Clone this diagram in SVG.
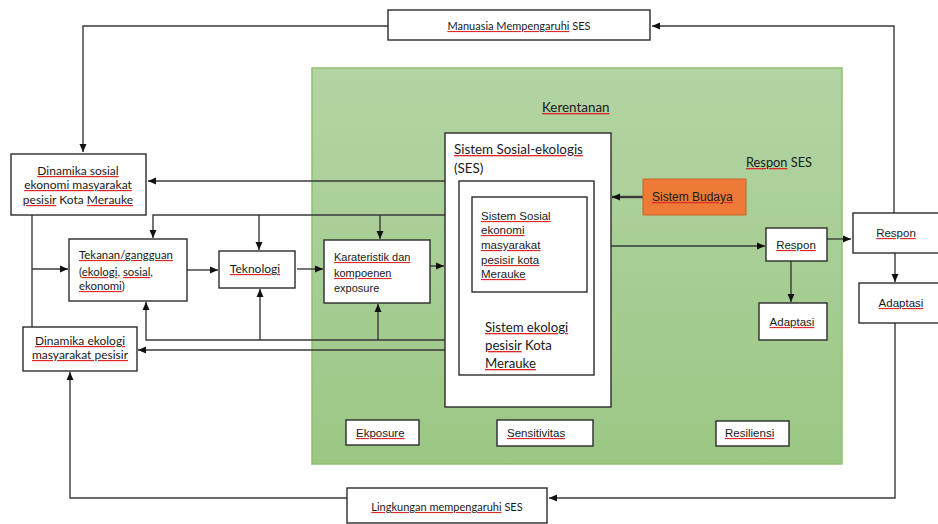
<svg xmlns="http://www.w3.org/2000/svg" width="938" height="524" viewBox="0 0 938 524">
<defs>
<linearGradient id="g" x1="0" y1="0" x2="0" y2="1">
<stop offset="0" stop-color="#b3d5a4"/>
<stop offset="1" stop-color="#9bc784"/>
</linearGradient>
<marker id="a" markerUnits="userSpaceOnUse" markerWidth="9" markerHeight="8" refX="8" refY="4" orient="auto">
<path d="M0,0.5 L8,4 L0,7.5 z" fill="#111"/>
</marker>
<style>
.b{fill:#fff;stroke:#2b2b2b;stroke-width:1.4}
.c{fill:none;stroke:#3a3a3a;stroke-width:1.4}
.t{font-family:Lato,"Liberation Sans",sans-serif;fill:#1a1a1a;font-size:12px}
.s{font-family:"Liberation Sans",Arial,sans-serif;fill:#1a1a1a;font-size:11.5px}
.m{text-anchor:middle}
.u{fill:#e02828;text-decoration:underline}
.k{fill:#1a1a1a}
</style>
</defs>

<rect id="green" x="312" y="68" width="530" height="396" fill="url(#g)" stroke="#8cc071" stroke-width="1.5"/>

<g id="connectors">
<path class="c" d="M388,26 H83 V152" marker-end="url(#a)"/>
<path class="c" d="M894,213 V26 H652" marker-end="url(#a)"/>
<path class="c" d="M895,323 V498 H549" marker-end="url(#a)"/>
<path class="c" d="M347,498 H70 V372" marker-end="url(#a)"/>
<path class="c" d="M445,181 H148" marker-end="url(#a)"/>
<path class="c" d="M445,215 H153 V238" marker-end="url(#a)"/>
<path class="c" d="M259,215 V250" marker-end="url(#a)"/>
<path class="c" d="M380,215 V239" marker-end="url(#a)"/>
<path class="c" d="M32,215 V327"/>
<path class="c" d="M32,269 H68" marker-end="url(#a)"/>
<path class="c" d="M187,270 H218" marker-end="url(#a)"/>
<path class="c" d="M297,269 H323" marker-end="url(#a)"/>
<path class="c" d="M420,266 H444" marker-end="url(#a)"/>
<path class="c" d="M445,340 H146 V302" marker-end="url(#a)"/>
<path class="c" d="M260,340 V289" marker-end="url(#a)"/>
<path class="c" d="M378,340 V304" marker-end="url(#a)"/>
<path class="c" d="M445,350 H138" marker-end="url(#a)"/>
<path class="c" d="M643,197 H612" style="stroke-width:2.4" marker-end="url(#a)"/>
<path class="c" d="M611,246 H765" marker-end="url(#a)"/>
<path class="c" d="M827,239 H851" marker-end="url(#a)"/>
<path class="c" d="M791,261 V302" marker-end="url(#a)"/>
<path class="c" d="M895,253 V282" marker-end="url(#a)"/>
</g>

<g id="manusia">
<rect class="b" x="388" y="10" width="262" height="30"/>
<text class="t m" x="519" y="30" style="font-size:11px"><tspan class="u"><tspan class="k">Manuasia Mempengaruhi</tspan></tspan> SES</text>
</g>

<g id="dinamika-sosial">
<rect class="b" x="11" y="154" width="135" height="61"/>
<text class="t m" x="78" y="175"><tspan class="u"><tspan class="k">Dinamika sosial</tspan></tspan></text>
<text class="t m" x="78" y="189"><tspan class="u"><tspan class="k">ekonomi masyarakat</tspan></tspan></text>
<text class="t m" x="78" y="204"><tspan class="u"><tspan class="k">pesisir</tspan></tspan> Kota <tspan class="u"><tspan class="k">Merauke</tspan></tspan></text>
</g>

<g id="tekanan">
<rect class="b" x="69" y="239" width="118" height="62"/>
<text class="t" x="79" y="259" style="font-size:11.4px"><tspan class="u"><tspan class="k">Tekanan/gangguan</tspan></tspan></text>
<text class="t" x="79" y="276" style="font-size:11.4px">(<tspan class="u"><tspan class="k">ekologi</tspan></tspan>, <tspan class="u"><tspan class="k">sosial</tspan></tspan>,</text>
<text class="t" x="79" y="290" style="font-size:11.4px"><tspan class="u"><tspan class="k">ekonomi</tspan></tspan>)</text>
</g>

<g id="teknologi">
<rect class="b" x="219" y="251" width="76" height="37"/>
<text class="t m" x="255" y="273"><tspan class="u"><tspan class="k">Teknologi</tspan></tspan></text>
</g>

<g id="karateristik">
<rect class="b" x="324" y="240" width="106" height="63"/>
<text class="s" x="334" y="261" style="font-size:11px"><tspan class="u"><tspan class="k">Karateristik dan</tspan></tspan></text>
<text class="s" x="334" y="277" style="font-size:11px"><tspan class="u"><tspan class="k">kompoenen</tspan></tspan></text>
<text class="s" x="334" y="292" style="font-size:11px">exposure</text>
</g>

<g id="dinamika-ekologi">
<rect class="b" x="23" y="327" width="114" height="44"/>
<text class="t m" x="80" y="345"><tspan class="u"><tspan class="k">Dinamika ekologi</tspan></tspan></text>
<text class="t m" x="80" y="359"><tspan class="u"><tspan class="k">masyarakat pesisir</tspan></tspan></text>
</g>

<g id="kerentanan">
<text class="t" x="542" y="112" style="font-size:13.4px"><tspan class="u"><tspan class="k">Kerentanan</tspan></tspan></text>
</g>

<g id="ses">
<rect class="b" x="445" y="133" width="166" height="274"/>
<text class="t" x="454" y="154" style="font-size:13.4px"><tspan class="u"><tspan class="k">Sistem Sosial-ekologis</tspan></tspan></text>
<text class="t" x="454" y="173" style="font-size:13.4px">(SES)</text>
<rect class="b" x="459" y="181" width="135" height="194"/>
<text class="t" x="485" y="332" style="font-size:13.2px"><tspan class="u"><tspan class="k">Sistem ekologi</tspan></tspan></text>
<text class="t" x="485" y="350" style="font-size:13.2px"><tspan class="u"><tspan class="k">pesisir</tspan></tspan> Kota</text>
<text class="t" x="485" y="368" style="font-size:13.2px"><tspan class="u"><tspan class="k">Merauke</tspan></tspan></text>
</g>

<g id="sistem-sosial-ekonomi">
<rect class="b" x="472" y="197" width="115" height="95"/>
<text class="s" x="481" y="220"><tspan class="u"><tspan class="k">Sistem Sosial</tspan></tspan></text>
<text class="s" x="481" y="234"><tspan class="u"><tspan class="k">ekonomi</tspan></tspan></text>
<text class="s" x="481" y="249"><tspan class="u"><tspan class="k">masyarakat</tspan></tspan></text>
<text class="s" x="481" y="264"><tspan class="u"><tspan class="k">pesisir kota</tspan></tspan></text>
<text class="s" x="481" y="278"><tspan class="u"><tspan class="k">Merauke</tspan></tspan></text>
</g>

<g id="sistem-budaya">
<rect x="643" y="179" width="103" height="36" fill="#ed7a36" stroke="#c8642a" stroke-width="1"/>
<text class="s" x="652" y="201" style="font-size:12px"><tspan class="u"><tspan class="k">Sistem Budaya</tspan></tspan></text>
</g>

<g id="respon-ses">
<text class="t" x="746" y="167" style="font-size:12.8px"><tspan class="u"><tspan class="k">Respon</tspan></tspan> SES</text>
</g>

<g id="respon-in">
<rect class="b" x="766" y="228" width="61" height="33"/>
<text class="s m" x="796" y="249"><tspan class="u"><tspan class="k">Respon</tspan></tspan></text>
</g>

<g id="adaptasi-in">
<rect class="b" x="759" y="303" width="68" height="37"/>
<text class="s m" x="792" y="326"><tspan class="u"><tspan class="k">Adaptasi</tspan></tspan></text>
</g>

<g id="respon-out">
<rect class="b" x="853" y="213" width="90" height="40"/>
<text class="s m" x="896" y="237"><tspan class="u"><tspan class="k">Respon</tspan></tspan></text>
</g>

<g id="adaptasi-out">
<rect class="b" x="859" y="283" width="84" height="40"/>
<text class="s m" x="901" y="307"><tspan class="u"><tspan class="k">Adaptasi</tspan></tspan></text>
</g>

<g id="ekposure">
<rect class="b" x="346" y="420" width="73" height="25"/>
<text class="s" x="356" y="437"><tspan class="u"><tspan class="k">Ekposure</tspan></tspan></text>
</g>

<g id="sensitivitas">
<rect class="b" x="497" y="420" width="96" height="26"/>
<text class="s" x="507" y="437"><tspan class="u"><tspan class="k">Sensitivitas</tspan></tspan></text>
</g>

<g id="resiliensi">
<rect class="b" x="716" y="421" width="73" height="25"/>
<text class="s" x="725" y="437"><tspan class="u"><tspan class="k">Resiliensi</tspan></tspan></text>
</g>

<g id="lingkungan">
<rect class="b" x="347" y="488" width="200" height="35"/>
<text class="t m" x="447" y="511" style="font-size:11px"><tspan class="u"><tspan class="k">Lingkungan mempengaruhi</tspan></tspan> SES</text>
</g>
</svg>
